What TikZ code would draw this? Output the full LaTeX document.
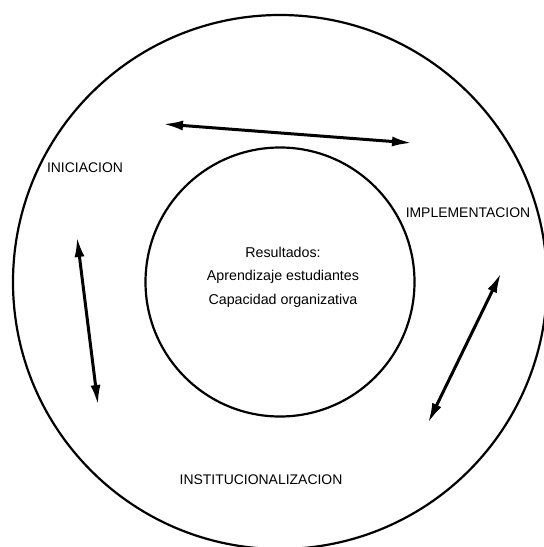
\documentclass[tikz,border=0pt]{standalone}
\usepackage{fontspec}
\setmainfont{Liberation Sans}
\usetikzlibrary{arrows.meta}
\tikzset{
  ring/.style={line width=2.2bp},
  dblarrow/.style={line width=3bp, {Latex[length=20bp,width=10bp]}-{Latex[length=20bp,width=10bp]}},
  lbl/.style={font=\fontsize{14}{16}\selectfont, inner sep=0pt},
  centertext/.style={font=\fontsize{14.3}{23.5}\selectfont, align=center, inner sep=0pt}
}
\begin{document}
\begin{tikzpicture}[x=1bp,y=-1bp]
  \clip (0,0) rectangle (544,547);
  \useasboundingbox (0,0) rectangle (544,547);
  \coordinate (c) at (280,282);
  \draw[ring] (c) circle[radius=267];
  \draw[ring] (c) circle[radius=134.5];
  \node[centertext] (res) at (283,277) {Resultados:\\Aprendizaje estudiantes\\Capacidad organizativa};
  \node[lbl] (ini) at (85,168) {INICIACION};
  \node[lbl] (imp) at (468,213) {IMPLEMENTACION};
  \node[lbl] (ins) at (261,480) {INSTITUCIONALIZACION};
  \coordinate (t1) at (163,124);
  \coordinate (t2) at (412,143);
  \coordinate (l1) at (77,237);
  \coordinate (l2) at (98,405);
  \coordinate (r1) at (501,273);
  \coordinate (r2) at (428,423);
  \draw[dblarrow] (t1) -- (t2);
  \draw[dblarrow] (l1) -- (l2);
  \draw[dblarrow] (r1) -- (r2);
\end{tikzpicture}
\end{document}
